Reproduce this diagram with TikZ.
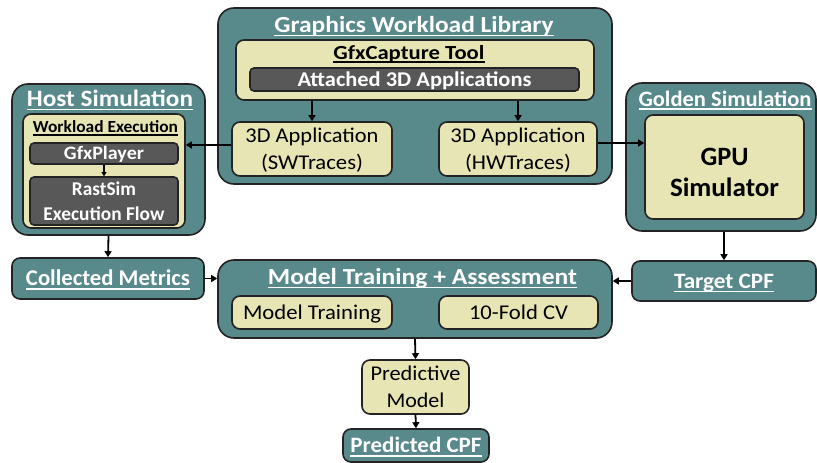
\documentclass[tikz,border=0pt]{standalone}
\usepackage{fontspec}
\usepackage{graphicx}
\setmainfont{Carlito}
\usetikzlibrary{arrows.meta}
\definecolor{teal1}{RGB}{88,137,139}
\definecolor{yel1}{RGB}{232,229,180}
\definecolor{dark1}{RGB}{88,88,88}
\definecolor{bord}{RGB}{35,35,35}
\newcommand\myul[1]{\leavevmode\setbox0\hbox{#1}\rlap{\smash{\rule[-0.19em]{\wd0}{0.08em}}}\box0}
\newcommand\fs[2]{\fontsize{#1}{#2}\selectfont}
\newcommand\fw[2]{\resizebox{#1pt}{\height}{#2}}
\tikzset{
  bx/.style args={#1/#2}{draw=bord, line width=1.6pt, inner sep=0pt, minimum width=#1pt, minimum height=#2pt},
  tealbox/.style={fill=teal1, rounded corners=16pt},
  tealsm/.style={fill=teal1, rounded corners=8pt, text=white},
  yelbox/.style={fill=yel1, rounded corners=8pt},
  darkbox/.style={fill=dark1, rounded corners=4pt, text=white},
  capc/.style={text height=#1pt, text depth=0pt},
  nodp/.style={text depth=0pt},
  lbl/.style={inner sep=0pt, anchor=base},
  arr/.style={draw=black, line width=1.8pt, -{Triangle[length=6pt,width=7pt]}}
}
\begin{document}
\begin{tikzpicture}[x=1pt,y=-1pt]
\useasboundingbox (0,0) rectangle (817,463);
% Graphics Workload Library
\node[bx=394/176, tealbox] (gwl) at (415,96) {};
\node[lbl, text=white, font=\bfseries\fs{23}{27}] (gwlt) at (414,32) {\fw{279}{\myul{Graphics Workload Library}}};
\node[bx=358/60, yelbox] (gfx) at (415,70) {};
\node[lbl, font=\bfseries\fs{20}{24}] (gfxt) at (409,59) {\fw{151}{\myul{GfxCapture Tool}}};
\node[bx=329/23, darkbox, capc=13.5, font=\bfseries\fs{21}{25}] (att) at (414.5,79.5) {\fw{234}{Attached 3D Applications}};
\node[bx=160/54, yelbox, nodp, align=center, font=\fs{21}{27}] (sw) at (312,149) {\fw{133}{3D Application}\\\fw{102}{(SWTraces)}};
\node[bx=158/54, yelbox, nodp, align=center, font=\fs{21}{27}] (hw) at (518,149) {\fw{135}{3D Application}\\\fw{106}{(HWTraces)}};
% Host Simulation
\node[bx=193/151, tealbox] (host) at (108.5,159.5) {};
\node[lbl, text=white, font=\bfseries\fs{23.5}{27}] (hostt) at (110,106) {\fw{166}{\myul{Host Simulation}}};
\node[bx=162/114, yelbox] (wl) at (104,171) {};
\node[lbl, font=\bfseries\fs{17}{20}] (wlt) at (105.5,132.5) {\fw{145}{\myul{Workload Execution}}};
\node[bx=148/21, darkbox, capc=12.2, font=\bfseries\fs{19}{23}] (gp) at (104,153.5) {\fw{80}{GfxPlayer}};
\node[bx=148/48, darkbox, nodp, align=center, font=\bfseries\fs{19.5}{24.5}] (rs) at (104,201) {\fw{64}{RastSim}\\\fw{121}{Execution Flow}};
% Golden Simulation
\node[bx=190/148, tealbox] (gold) at (721,157) {};
\node[lbl, text=white, font=\bfseries\fs{22}{26}] (goldt) at (725,106) {\fw{173}{\myul{Golden Simulation}}};
\node[bx=159/104, yelbox] (gpu) at (724.5,167) {};
\node[inner sep=0pt, align=center, font=\bfseries\fs{26.5}{31}] (gput) at (724.5,172) {\fw{48}{GPU}\\\fw{109}{Simulator}};
% Bottom row
\node[bx=192/41, tealsm, capc=14.5, font=\bfseries\fs{22.5}{26}] (cm) at (108,278.5) {\fw{164}{\myul{Collected Metrics}}};
\node[bx=394/78, tealbox] (mta) at (415,299) {};
\node[lbl, text=white, font=\bfseries\fs{23}{27}] (mtat) at (422.5,284) {\fw{309}{\myul{Model Training + Assessment}}};
\node[bx=160/33, yelbox, capc=13.5, font=\fs{21}{25}] (mt) at (312,312.5) {\fw{138}{Model Training}};
\node[bx=159/33, yelbox, capc=13.5, font=\fs{21}{25}] (cv) at (518.5,312.5) {\fw{99}{10-Fold CV}};
\node[bx=184/40, tealsm, capc=14.2, font=\bfseries\fs{22}{26}] (tc) at (724,281) {\fw{100}{\myul{Target CPF}}};
\node[bx=107/54, yelbox, nodp, align=center, font=\fs{21}{27}] (pm) at (415.5,387) {\fw{90}{Predictive}\\\fw{58}{Model}};
\node[bx=146/33, tealsm, capc=14.2, font=\bfseries\fs{22}{26}] (pc) at (416,445.5) {\fw{131}{\myul{Predicted CPF}}};
% Arrows
\draw[arr] (sw.north |- gfx.south) -- (sw.north);
\draw[arr] (hw.north |- gfx.south) -- (hw.north);
\draw[arr] ([yshift=4pt]sw.west) -- ([yshift=4pt]sw.west -| wl.east);
\draw[arr] ([yshift=6pt]hw.east) -- ([yshift=6pt]hw.east -| gpu.west);
\draw[arr, -{Triangle[length=4pt,width=5pt]}] (gp.south) -- (rs.north);
\draw[arr] (host.south) -- (cm.north);
\draw[arr] (cm.east) -- (cm.east -| mta.west);
\draw[arr] (tc.north |- gold.south) -- (tc.north);
\draw[arr] (tc.west) -- (tc.west -| mta.east);
\draw[arr] (mta.south) -- (pm.north);
\draw[arr] (pm.south) -- (pc.north);
\end{tikzpicture}
\end{document}
